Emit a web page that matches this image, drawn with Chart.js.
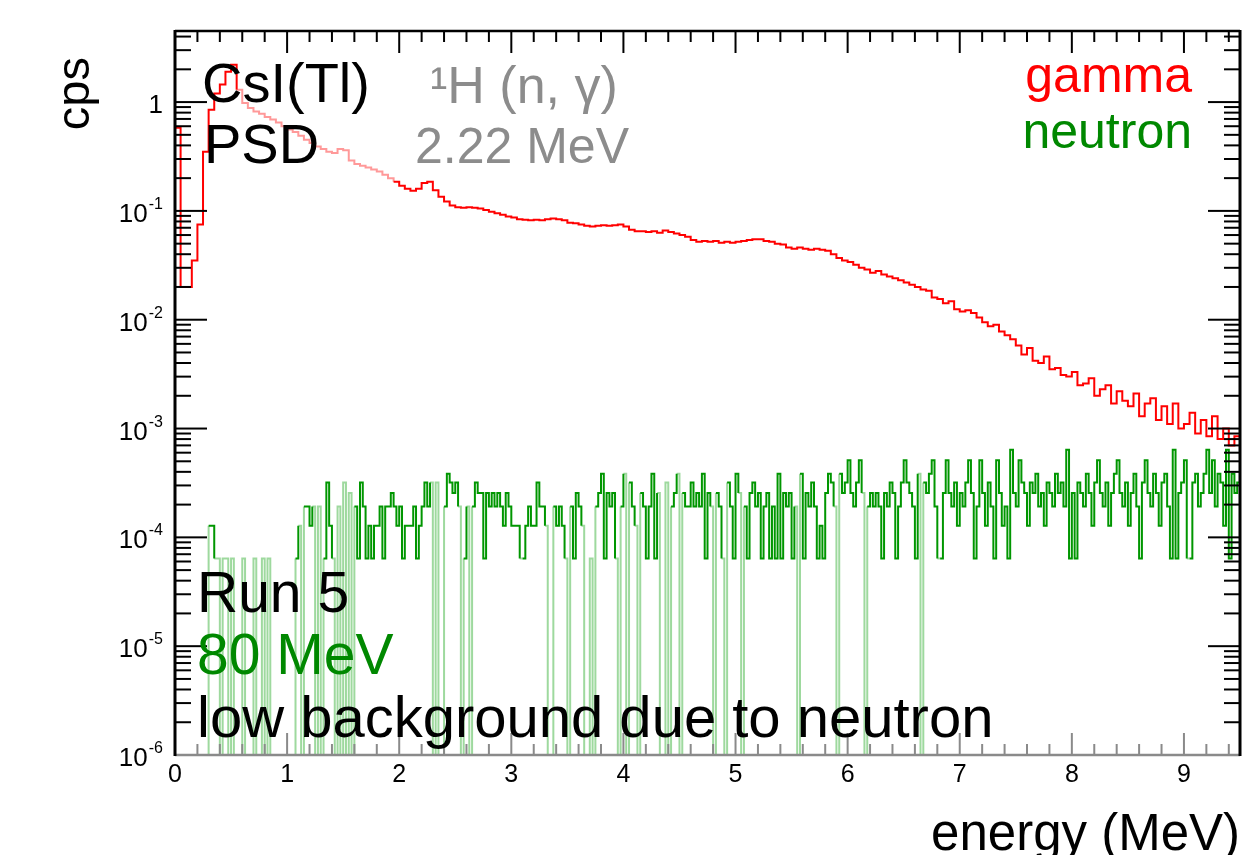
<!DOCTYPE html>
<html>
<head>
<meta charset="utf-8">
<script src="https://cdn.jsdelivr.net/npm/chart.js@4.4.1/dist/chart.umd.min.js"></script>
<style>html,body{margin:0;padding:0;background:#fff;}canvas{display:block;}</style>
</head>
<body>
<canvas id="c" width="1255" height="855"></canvas>
<script>
// ---------- data ----------
const gammaBinWidth = 0.05; // MeV
const gammaCps = [
  0.58, 0.020, 0.020, 0.035, 0.075, 0.35, 0.85, 1.2, 1.45, 1.9,
  2.2, 1.3, 0.98, 0.88, 0.82, 0.78, 0.73, 0.69, 0.65, 0.6,
  0.56, 0.53, 0.49, 0.45, 0.42, 0.39, 0.37, 0.35, 0.34, 0.37,
  0.36, 0.29, 0.27, 0.26, 0.25, 0.24, 0.23, 0.215, 0.2, 0.185,
  0.17, 0.16, 0.153, 0.16, 0.18, 0.185, 0.155, 0.135, 0.122, 0.112,
  0.108, 0.107, 0.108, 0.107, 0.105, 0.102, 0.098, 0.095, 0.092, 0.089,
  0.087, 0.084, 0.083, 0.082, 0.083, 0.082, 0.084, 0.085, 0.084, 0.082,
  0.078, 0.077, 0.075, 0.073, 0.072, 0.073, 0.074, 0.073, 0.074, 0.075,
  0.072, 0.067, 0.065, 0.065, 0.064, 0.065, 0.063, 0.066, 0.064, 0.062,
  0.06, 0.058, 0.054, 0.052, 0.053, 0.052, 0.053, 0.051, 0.052, 0.051,
  0.052, 0.053, 0.054, 0.055, 0.055, 0.053, 0.052, 0.05, 0.049, 0.046,
  0.045, 0.046, 0.045, 0.044, 0.045, 0.044, 0.043, 0.04, 0.037, 0.035,
  0.034, 0.032, 0.03, 0.029, 0.027, 0.028, 0.026, 0.025, 0.024, 0.023,
  0.022, 0.021, 0.020, 0.019, 0.0185, 0.016, 0.0155, 0.0142, 0.0148, 0.0125,
  0.0119, 0.0122, 0.0115, 0.0105, 0.0095, 0.0087, 0.009, 0.0078, 0.0072, 0.0066,
  0.0058, 0.0048, 0.0055, 0.0042, 0.0040, 0.0046, 0.0035, 0.0036, 0.0031, 0.0030,
  0.0033, 0.0025, 0.0026, 0.0029, 0.0020, 0.0023, 0.0025, 0.0017, 0.0022, 0.0018,
  0.0016, 0.0021, 0.0013, 0.0017, 0.0019, 0.0012, 0.0016, 0.0011, 0.0017, 0.0010,
  0.0011, 0.0014, 0.0009, 0.0012, 0.00085, 0.0013, 0.0008, 0.001, 0.0007, 0.00085
];

const neutronBinWidth = 0.025; // MeV
const cpsPerNeutronCount = 6.4e-5;
const neutronCounts = [
  0,0,0,0,0,0,0,0,0,0,0,0,2,2,1,1,0,1,1,0,
  1,0,0,0,1,0,0,0,1,0,0,1,0,1,0,0,0,0,0,0,
  0,0,0,1,2,0,3,3,2,3,0,3,0,1,5,2,1,0,3,0,
  5,0,4,0,3,1,5,3,1,2,1,2,2,3,1,3,3,4,3,2,
  3,1,2,2,2,3,1,2,3,5,3,5,0,5,0,0,3,6,5,4,
  5,3,0,1,3,0,3,5,4,4,1,4,3,4,3,4,3,2,4,3,
  2,2,2,1,1,2,3,2,2,5,3,3,2,0,0,3,2,3,2,1,
  0,3,1,4,3,2,0,0,1,0,3,4,6,1,4,3,4,1,0,3,
  6,0,5,3,2,0,4,3,1,3,6,1,4,0,0,5,0,3,4,6,
  0,4,3,3,5,3,4,3,6,1,4,3,0,4,3,1,0,5,3,1,
  6,4,0,3,1,4,5,3,4,1,3,4,1,3,1,6,1,4,3,4,
  1,3,0,6,1,4,3,5,3,1,2,1,4,6,5,3,0,6,4,5,
  8,4,3,5,8,4,0,3,4,3,4,3,1,4,3,5,4,1,3,5,
  8,5,4,3,1,6,0,5,4,6,8,3,1,1,4,8,4,3,5,2,
  4,3,5,8,4,1,3,8,4,2,5,3,1,8,4,2,3,1,10,4,
  3,8,5,4,2,5,4,6,3,4,2,5,4,3,6,4,5,3,10,1,
  4,1,5,4,3,6,4,2,5,8,4,3,5,2,4,6,8,4,3,5,
  2,4,6,3,1,5,8,4,3,6,4,2,5,6,3,1,10,1,4,5,
  8,1,1,5,6,3,4,6,10,4,8,3,6,5,2,10,1,6,4,5
];

const xTickValues = [0, 1, 2, 3, 4, 5, 6, 7, 8, 9];
const xTickLabels = ['0', '1', '2', '3', '4', '5', '6', '7', '8', '9'];
const yTickValues = [1e-6, 1e-5, 1e-4, 1e-3, 1e-2, 1e-1, 1];
const yTickBase = ['10', '10', '10', '10', '10', '10', '1'];
const yTickExponent = ['-6', '-5', '-4', '-3', '-2', '-1', ''];

const X_MIN = 0, X_MAX = 9.5, Y_MIN = 1e-6, Y_MAX = 4.5;
const FONT = "'Liberation Sans', Arial, Helvetica, sans-serif";

// ---------- build histogram step points ----------
function histPoints(values, width) {
  const pts = values.map((v, i) => ({ x: +(i * width).toFixed(4), y: Math.max(v, Y_MIN) }));
  pts.push({ x: +(values.length * width).toFixed(4), y: Math.max(values[values.length - 1], Y_MIN) });
  return pts;
}
const gammaPoints = [{ x: 0, y: Y_MIN }].concat(histPoints(gammaCps, gammaBinWidth));
const neutronPoints = histPoints(neutronCounts.map(n => n * cpsPerNeutronCount), neutronBinWidth);

// ---------- plugins: ROOT-style frame with inner ticks, y labels with exponents, text labels ----------
const frameTicks = {
  id: 'frameTicks',
  afterDatasetsDraw(chart) {
    const { ctx, chartArea: a, scales: { x, y } } = chart;
    ctx.save();
    ctx.lineCap = 'butt';
    const seg = (x1, y1, x2, y2) => { ctx.beginPath(); ctx.moveTo(x1, y1); ctx.lineTo(x2, y2); ctx.stroke(); };
    ctx.strokeStyle = '#000';
    ctx.lineWidth = 2;
    for (let n = -6; n <= 0; n++) {
      for (let k = 1; k <= 9; k++) {
        const v = k * Math.pow(10, n);
        if (v < Y_MIN || v > Y_MAX) continue;
        const py = y.getPixelForValue(v);
        const len = k === 1 ? 32 : 16;
        seg(a.left, py, a.left + len, py);
        seg(a.right, py, a.right - len, py);
      }
    }
    for (let i = 0; i * 0.2 <= X_MAX + 1e-9; i++) {
      const v = i * 0.2;
      const px = x.getPixelForValue(v);
      const major = Math.abs(v - Math.round(v)) < 1e-6;
      const len = major ? 22 : 11;
      ctx.strokeStyle = '#000';
      seg(px, a.top, px, a.top + len);
      ctx.strokeStyle = '#8a8a8a';
      seg(px, a.bottom, px, a.bottom - len);
    }
    ctx.strokeStyle = '#8a8a8a';
    ctx.lineWidth = 2.5;
    seg(a.left, a.bottom, a.right, a.bottom);
    ctx.strokeStyle = '#000';
    seg(a.left, a.top, a.right, a.top);
    ctx.lineWidth = 3;
    seg(a.left, a.top - 1, a.left, a.bottom + 1);
    seg(a.right, a.top - 1, a.right, a.bottom + 1);

    // y tick labels: base with raised exponent, placed with the y scale
    ctx.fillStyle = '#000';
    ctx.textBaseline = 'alphabetic';
    yTickValues.forEach((v, i) => {
      const py = y.getPixelForValue(v);
      const rightEdge = a.left - 12;
      ctx.font = '16px ' + FONT;
      const ew = yTickExponent[i] ? ctx.measureText(yTickExponent[i]).width + 1 : 0;
      if (yTickExponent[i]) {
        ctx.textAlign = 'right';
        ctx.fillText(yTickExponent[i], rightEdge, py - 2);
      }
      ctx.font = '26px ' + FONT;
      ctx.textAlign = 'right';
      ctx.fillText(yTickBase[i], rightEdge - ew, py + 11);
    });
    ctx.restore();
  }
};

const textLabels = {
  id: 'textLabels',
  afterDraw(chart) {
    const { ctx, chartArea: a } = chart;
    ctx.save();
    ctx.textBaseline = 'alphabetic';
    const put = (t, px, py, size, color, align) => {
      ctx.font = size + 'px ' + FONT;
      ctx.fillStyle = color;
      ctx.textAlign = align || 'left';
      ctx.fillText(t, px, py);
    };
    put('CsI(Tl)', a.left + 27, a.top + 71, 56, '#000');
    put('PSD', a.left + 29, a.top + 132, 56, '#000');
    put('\u00B9H (n, \u03B3)', a.left + 255, a.top + 72, 52, '#8c8c8c');
    put('2.22 MeV', a.left + 240, a.top + 132, 50, '#8c8c8c');
    put('gamma', a.right - 48, a.top + 61, 50, '#ff0000', 'right');
    put('neutron', a.right - 48, a.top + 117, 50, '#008800', 'right');
    put('Run 5', a.left + 22, a.top + 581, 57, '#000');
    put('80 MeV', a.left + 22, a.top + 643, 57, '#008800');
    put('low background due to neutron', a.left + 22, a.top + 706, 58, '#000');
    ctx.restore();
  }
};

Chart.defaults.font.family = FONT;

const lightNeutron = 'rgba(40,170,40,0.45)';
const darkNeutron = '#009600';

new Chart(document.getElementById('c'), {
  type: 'line',
  data: {
    datasets: [
      {
        label: 'gamma',
        data: gammaPoints,
        stepped: true,
        borderColor: '#ff0000',
        borderWidth: 2,
        pointRadius: 0,
        fill: false,
        segment: {
          borderColor: c => (c.p0.parsed.x >= 0.55 && c.p0.parsed.x < 1.95) ? 'rgba(255,70,70,0.55)' : '#ff0000'
        }
      },
      {
        label: 'neutron',
        data: neutronPoints,
        stepped: true,
        borderColor: darkNeutron,
        borderWidth: 2,
        pointRadius: 0,
        fill: false,
        segment: {
          borderColor: c => {
            const lo = Math.min(c.p0.parsed.y, c.p1.parsed.y);
            const hi = Math.max(c.p0.parsed.y, c.p1.parsed.y);
            return (lo < 0.5 * cpsPerNeutronCount || hi < 1.5 * cpsPerNeutronCount) ? lightNeutron : darkNeutron;
          }
        }
      }
    ]
  },
  options: {
    responsive: false,
    animation: false,
    devicePixelRatio: 1,
    layout: { padding: { top: 31, right: 15, left: 0, bottom: 0 } },
    plugins: { legend: { display: false }, tooltip: { enabled: false } },
    scales: {
      x: {
        type: 'linear',
        min: X_MIN,
        max: X_MAX,
        afterBuildTicks: s => { s.ticks = xTickValues.map(v => ({ value: v })); },
        afterFit: s => { s.height = 100; },
        ticks: {
          callback: (v, i) => xTickLabels[i],
          font: { size: 25, family: FONT },
          color: '#000',
          padding: 5,
          maxRotation: 0,
          autoSkip: false
        },
        grid: { display: false, drawTicks: false },
        border: { display: false },
        title: {
          display: true,
          text: 'energy (MeV)',
          align: 'end',
          color: '#000',
          font: { size: 51, family: FONT, lineHeight: 0.76 },
          padding: 0
        }
      },
      y: {
        type: 'logarithmic',
        min: Y_MIN,
        max: Y_MAX,
        afterBuildTicks: s => { s.ticks = yTickValues.map(v => ({ value: v })); },
        afterFit: s => { s.width = 175; },
        ticks: { display: false },
        grid: { display: false, drawTicks: false },
        border: { display: false },
        title: {
          display: true,
          text: 'cps  ',
          align: 'end',
          color: '#000',
          font: { size: 47, family: FONT, lineHeight: 1 },
          padding: { top: 53, bottom: 0 }
        }
      }
    }
  },
  plugins: [frameTicks, textLabels]
});
</script>
</body>
</html>
